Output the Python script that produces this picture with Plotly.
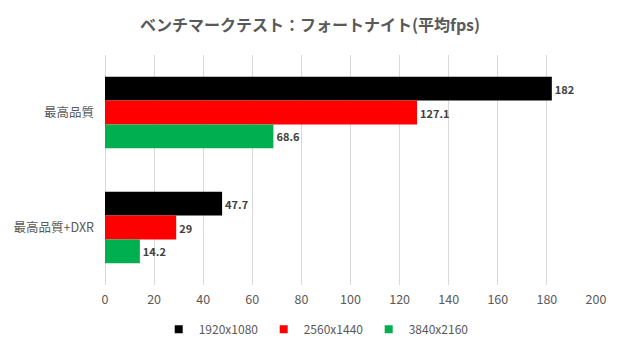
import plotly.graph_objects as go

categories = ["最高品質", "最高品質+DXR"]
series_names = ["1920x1080", "2560x1440", "3840x2160"]
series_values = [
    [182, 47.7],
    [127.1, 29],
    [68.6, 14.2],
]
series_labels = [
    ["182", "47.7"],
    ["127.1", "29"],
    ["68.6", "14.2"],
]
colors = ["#000000", "#ff0000", "#00b050"]
x_ticks = [0, 20, 40, 60, 80, 100, 120, 140, 160, 180, 200]

FONT = "Noto Sans CJK JP, Noto Sans, sans-serif"

fig = go.Figure()
for name, vals, labels, col in zip(series_names, series_values, series_labels, colors):
    fig.add_trace(go.Bar(
        y=categories, x=vals, name=name, orientation="h",
        marker=dict(color=col, line=dict(width=0)),
        text=labels, textposition="outside", cliponaxis=False,
        textfont=dict(family=FONT, size=11, color="#404040", weight="bold"),
        showlegend=False, legendgroup=name,
    ))
# legend proxies (small square keys like the reference)
for name, col in zip(series_names, colors):
    fig.add_trace(go.Scatter(
        x=[None], y=[None], mode="markers", name=name, legendgroup=name,
        marker=dict(symbol="square", size=8, color=col, line=dict(width=0)),
        showlegend=True,
    ))

fig.update_layout(
    width=620, height=354,
    margin=dict(l=105, r=24, t=55, b=69, autoexpand=False),
    paper_bgcolor="white", plot_bgcolor="white",
    barmode="group", bargap=0.38, bargroupgap=0,
    font=dict(family=FONT, size=12, color="#595959"),
    title=dict(
        text="ベンチマークテスト：フォートナイト(平均fps)",
        x=0.5, xref="container", xanchor="center",
        y=0.928, yref="container", yanchor="middle",
        font=dict(family=FONT, size=16, color="#595959", weight="bold"),
    ),
    showlegend=True,
    legend=dict(
        orientation="h", x=0.51, xref="container", xanchor="center",
        y=0.07, yref="container", yanchor="middle",
        traceorder="normal",
        font=dict(family=FONT, size=12, color="#595959"),
        itemwidth=30, entrywidth=60, entrywidthmode="pixels",
    ),
    xaxis=dict(
        range=[0, 200], tickvals=x_ticks, showgrid=True, gridcolor="#d9d9d9",
        gridwidth=1, zeroline=True, zerolinecolor="#d9d9d9", zerolinewidth=1,
        showline=False, ticks="", tickfont=dict(size=12.5, color="#595959"),
        ticklabelstandoff=5, fixedrange=True, automargin=False,
    ),
    yaxis=dict(
        autorange="reversed", showgrid=False, zeroline=False, showline=False,
        ticks="", ticklabelstandoff=10, automargin=False,
        tickfont=dict(size=12.5, color="#595959"),
    ),
)

fig.write_html("out.html")
